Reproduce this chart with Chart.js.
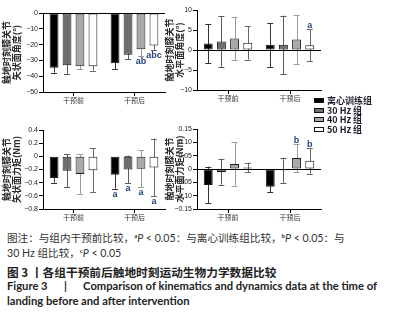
<!DOCTYPE html>
<html>
<head>
<meta charset="utf-8">
<script src="https://cdn.jsdelivr.net/npm/chart.js@4.4.1/dist/chart.umd.min.js"></script>
<style>
  body { margin:0; background:#fff; width:399px; height:316px; overflow:hidden; position:relative; }
  canvas { position:absolute; }
  .legend { position:absolute; left:314px; top:96px; font-family:"Noto Sans CJK SC",sans-serif; font-weight:bold; font-size:9px; color:#1c1c2a; line-height:9.6px; }
  .legend div { white-space:nowrap; }
  .legend span.sw { display:inline-block; width:8px; height:3px; border:1px solid #111; margin-right:3px; vertical-align:middle; position:relative; top:-1px; }
  .cap { position:absolute; left:7px; white-space:nowrap; font-family:"Lato","Noto Sans CJK SC",sans-serif; }
  .note { font-size:10.6px; color:#333; }
  .note sup { font-size:6px; font-weight:bold; vertical-align:4px; }
  .ttl { font-size:11.7px; font-weight:bold; color:#222; font-family:"Noto Sans CJK SC",sans-serif; }
  .fig { font-size:11.2px; font-weight:bold; color:#222; }
</style>
</head>
<body>
<canvas id="c1" width="170" height="108" style="left:0;top:0"></canvas>
<canvas id="c2" width="165" height="108" style="left:163px;top:0"></canvas>
<canvas id="c3" width="170" height="115" style="left:0;top:110px"></canvas>
<canvas id="c4" width="165" height="115" style="left:163px;top:110px"></canvas>
<div class="legend" id="legend"></div>
<div class="cap note" style="top:230px">图注：与组内干预前比较，<sup>a</sup><i>P</i> &lt; 0.05：与离心训练组比较，<sup>b</sup><i>P</i> &lt; 0.05：与</div>
<div class="cap note" style="top:245px">30 Hz 组比较，<sup>c</sup><i>P</i> &lt; 0.05</div>
<div class="cap ttl" style="top:263px">图 3 丨各组干预前后触地时刻运动生物力学数据比较</div>
<div class="cap fig" style="top:279px">Figure 3&nbsp;&nbsp;&nbsp;&nbsp;&nbsp;&nbsp;|&nbsp;&nbsp;&nbsp;&nbsp;&nbsp;&nbsp;Comparison of kinematics and dynamics data at the time of</div>
<div class="cap fig" style="top:294px">landing before and after intervention</div>
<script>
const groups = ['干预前', '干预后'];
const seriesNames = ['离心训练组', '30 Hz 组', '40 Hz 组', '50 Hz 组'];
const barColors = ['#000000', '#6e6e6e', '#a9a9a9', '#ffffff'];
const errColors = ['#333333', '#5a5a5a', '#9c9c9c', '#666666'];

// knee sagittal angle at landing (deg), per series [pre, post]
const angSagMean = [[-34.7, -31.8], [-33.1, -26.4], [-33.7, -23.0], [-33.7, -20.5]];
const angSagSD = [[3.0, 3.8], [5.4, 2.9], [1.9, 4.5], [2.7, 2.9]];
const angSagMarks = [['', ''], ['', ''], ['', 'ab'], ['', 'abc']];
const angSagTicks = [0, -10, -20, -30, -40, -50];
const angSagTickLabels = ['0', '−10', '−20', '−30', '−40', '−50'];

// knee horizontal angle (deg)
const angHorMean = [[1.6, 1.3], [2.1, 1.3], [2.9, 2.6], [1.8, 1.2]];
const angHorSD = [[4.9, 5.5], [6.3, 7.3], [5.4, 6.1], [4.2, 4.0]];
const angHorMarks = [['', ''], ['', ''], ['', ''], ['', 'a']];
const angHorTicks = [10, 5, 0, -5, -10];
const angHorTickLabels = ['10', '5', '0', '−5', '−10'];

// knee sagittal moment (Nm)
const momSagMean = [[-0.33, -0.28], [-0.22, -0.20], [-0.27, -0.19], [-0.21, -0.17]];
const momSagSD = [[0.07, 0.21], [0.25, 0.21], [0.30, 0.28], [0.33, 0.44]];
const momSagMarks = [['', 'a'], ['', 'a'], ['', 'a'], ['', 'a']];
const momSagTicks = [0.4, 0.2, 0, -0.2, -0.4, -0.6, -0.8];
const momSagTickLabels = ['0.4', '0.2', '0', '−0.2', '−0.4', '−0.6', '−0.8'];

// knee horizontal moment (Nm)
const momHorMean = [[-0.060, -0.067], [-0.011, -0.005], [0.019, 0.041], [0.006, 0.031]];
const momHorSD = [[0.069, 0.020], [0.048, 0.047], [0.082, 0.053], [0.018, 0.048]];
const momHorMarks = [['', ''], ['', ''], ['', 'b'], ['', 'b']];
const momHorTicks = [0.15, 0.10, 0.05, 0, -0.05, -0.10, -0.15];
const momHorTickLabels = ['0.15', '0.10', '0.05', '0', '−0.05', '−0.10', '−0.15'];

const markColor = '#24457e';

const errorBars = {
  id: 'errorBars',
  beforeDatasetsDraw(chart) {
    const ctx = chart.ctx, y = chart.scales.y;
    ctx.save();
    chart.data.datasets.forEach((ds, i) => {
      chart.getDatasetMeta(i).data.forEach((bar, j) => {
        const m = ds.data[j], s = ds.sd[j];
        const y1 = y.getPixelForValue(m + s), y2 = y.getPixelForValue(m - s);
        ctx.strokeStyle = ds.errColor;
        ctx.lineWidth = 1;
        ctx.beginPath();
        ctx.moveTo(Math.round(bar.x) + 0.5, y1); ctx.lineTo(Math.round(bar.x) + 0.5, y2);
        ctx.moveTo(bar.x - 3, Math.round(y1) + 0.5); ctx.lineTo(bar.x + 3, Math.round(y1) + 0.5);
        ctx.moveTo(bar.x - 3, Math.round(y2) + 0.5); ctx.lineTo(bar.x + 3, Math.round(y2) + 0.5);
        ctx.stroke();
      });
    });
    ctx.restore();
  },
  afterDatasetsDraw(chart, args, opts) {
    const ctx = chart.ctx, y = chart.scales.y, area = chart.chartArea;
    ctx.save();
    if (opts.zeroLine) {
      const y0 = Math.round(y.getPixelForValue(0)) + 0.5;
      ctx.strokeStyle = '#000';
      ctx.lineWidth = 1;
      ctx.beginPath(); ctx.moveTo(area.left, y0); ctx.lineTo(area.right, y0); ctx.stroke();
    }
    ctx.font = 'bold 9px "Liberation Sans", Arial, sans-serif';
    ctx.fillStyle = markColor;
    ctx.textAlign = 'center';
    chart.data.datasets.forEach((ds, i) => {
      chart.getDatasetMeta(i).data.forEach((bar, j) => {
        const t = ds.marks[j];
        if (!t) return;
        const m = ds.data[j], s = ds.sd[j];
        if (m < 0) {
          ctx.textBaseline = 'top';
          ctx.fillText(t, bar.x, y.getPixelForValue(m - s) + 1);
        } else {
          ctx.textBaseline = 'bottom';
          ctx.fillText(t, bar.x, y.getPixelForValue(m + s) + 1);
        }
      });
    });
    ctx.restore();
  }
};

function makeChart(id, p) {
  return new Chart(document.getElementById(id), {
    type: 'bar',
    data: {
      labels: groups,
      datasets: seriesNames.map((n, i) => ({
        label: n,
        data: p.mean[i],
        sd: p.sd[i],
        marks: p.marks[i],
        errColor: errColors[i],
        backgroundColor: barColors[i],
        borderColor: '#1a1a1a',
        borderWidth: 1,
        borderSkipped: false,
        categoryPercentage: 0.85,
        barPercentage: 0.68
      }))
    },
    options: {
      animation: false,
      responsive: false,
      devicePixelRatio: 1,
      layout: { padding: p.pad },
      plugins: {
        legend: { display: false },
        tooltip: { enabled: false },
        errorBars: { zeroLine: p.zeroLine }
      },
      scales: {
        x: {
          afterFit: s => { s.height = p.xH; },
          grid: { drawOnChartArea: false, offset: false, tickLength: 4, color: '#000', lineWidth: 1 },
          border: { color: '#000', width: 1 },
          ticks: { padding: 0, color: '#333', font: { family: '"Noto Sans CJK SC", sans-serif', size: 7 } }
        },
        y: {
          min: p.min,
          max: p.max,
          afterFit: s => { s.width = p.yW; },
          afterBuildTicks: s => { s.ticks = p.ticks.map(v => ({ value: v })); },
          grid: { drawOnChartArea: false, tickLength: 4, color: '#000', lineWidth: 1 },
          border: { color: '#000', width: 1 },
          ticks: {
            padding: 1,
            color: '#222',
            font: { family: '"Liberation Sans", Arial, sans-serif', size: 7 },
            callback: (v, i) => p.tickLabels[p.ticks.indexOf(v)]
          },
          title: {
            display: true,
            text: p.title,
            color: '#2a2a2a',
            padding: { top: 2, bottom: 0 },
            font: { family: '"Noto Sans CJK SC", sans-serif', size: 9, weight: 'bold', lineHeight: 1.05 }
          }
        }
      }
    },
    plugins: [errorBars]
  });
}

makeChart('c1', { mean: angSagMean, sd: angSagSD, marks: angSagMarks, ticks: angSagTicks, tickLabels: angSagTickLabels,
  min: -50, max: 0, title: ['触地时刻膝关节', '矢状面角度(°)'], pad: { top: 13, right: 5, left: 0, bottom: 0 }, yW: 43, xH: 16, zeroLine: true });
makeChart('c2', { mean: angHorMean, sd: angHorSD, marks: angHorMarks, ticks: angHorTicks, tickLabels: angHorTickLabels,
  min: -10, max: 10, title: ['触地时刻膝关节', '水平面角度(°)'], pad: { top: 10, right: 7, left: 0, bottom: 0 }, yW: 34, xH: 18, zeroLine: true });
makeChart('c3', { mean: momSagMean, sd: momSagSD, marks: momSagMarks, ticks: momSagTicks, tickLabels: momSagTickLabels,
  min: -0.8, max: 0.4, title: ['触地时刻膝关节', '矢状面力矩(Nm)'], pad: { top: 20, right: 5, left: 0, bottom: 0 }, yW: 43, xH: 16, zeroLine: false });
makeChart('c4', { mean: momHorMean, sd: momHorSD, marks: momHorMarks, ticks: momHorTicks, tickLabels: momHorTickLabels,
  min: -0.15, max: 0.15, title: ['触地时刻膝关节', '水平面力矩(Nm)'], pad: { top: 19, right: 7, left: 0, bottom: 0 }, yW: 34, xH: 16, zeroLine: true });

const legend = document.getElementById('legend');
seriesNames.forEach((n, i) => {
  const row = document.createElement('div');
  row.innerHTML = '<span class="sw" style="background:' + barColors[i] + '"></span>' + n;
  legend.appendChild(row);
});
</script>
</body>
</html>
